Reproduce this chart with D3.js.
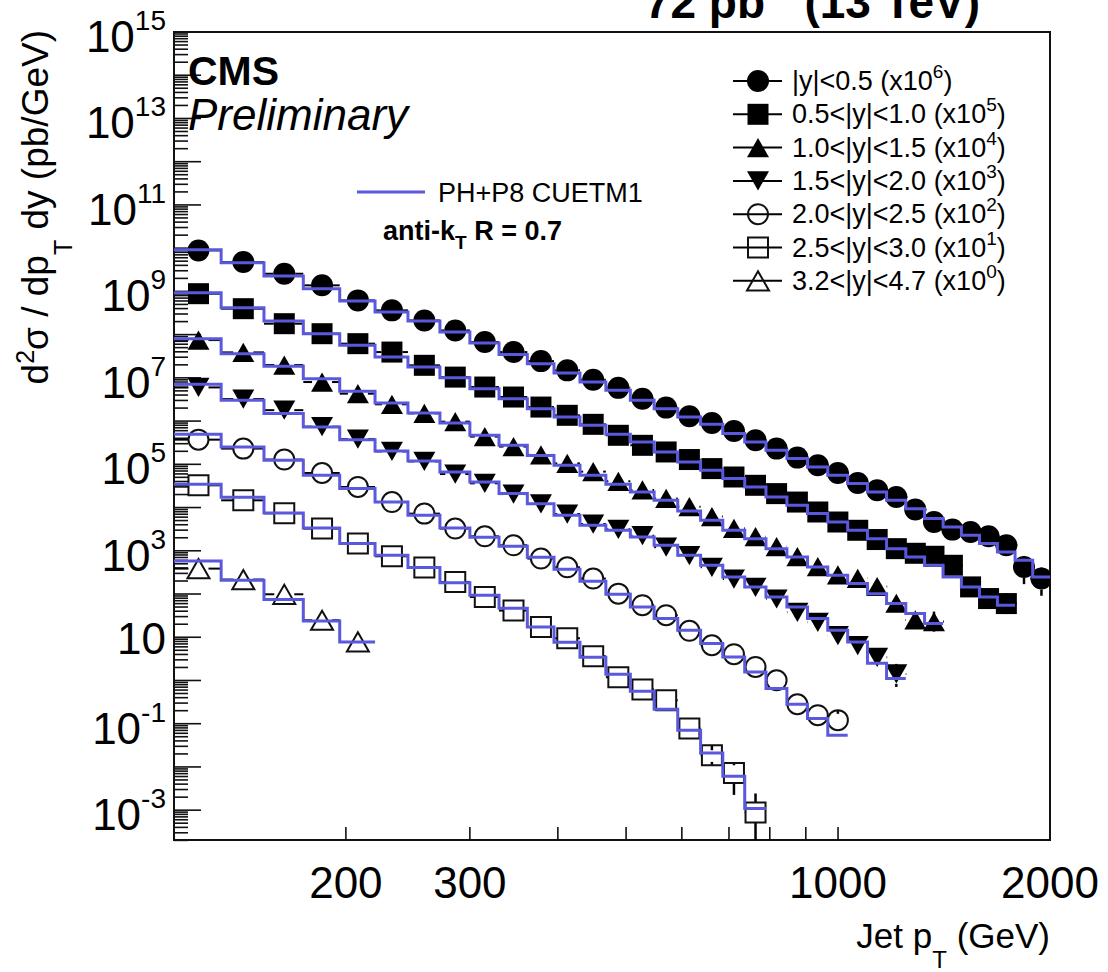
<!DOCTYPE html>
<html><head><meta charset="utf-8">
<script src="https://cdn.jsdelivr.net/npm/d3@7"></script>
<style>
body{margin:0;background:#fff}
text{font-family:"Liberation Sans",Arial,Helvetica,sans-serif;fill:#000}
</style>
</head><body>
<svg id="chart" width="1108" height="972"></svg>
<script>
// ---------------- data ----------------
const binEdges = [114,133,153,174,196,220,245,272,300,330,362,395,430,468,507,548,592,638,686,737,790,846,905,967,1032,1101,1172,1248,1327,1410,1497,1588,1684,1784,1890,2000];
const seriesLabels = ["|y|<0.5","0.5<|y|<1.0","1.0<|y|<1.5","1.5<|y|<2.0","2.0<|y|<2.5","2.5<|y|<3.0","3.2<|y|<4.7"];
const scaleExponents = [6,5,4,3,2,1,0];
const markerTypes = ["circle","square","triangleUp","triangleDown","circleOpen","squareOpen","triangleOpen"];

// measured cross sections d2sigma/dpT dy (pb/GeV), before the legend scale factor
const data0 = [8.87e3,4.76e3,2.56e3,1.38e3,619,364,213,125,67.3,39.5,24.4,14.9,9.08,5.87,3.30,2.05,1.29,0.90,0.589,0.359,0.231,0.143,0.0948,0.0630,0.0370,0.0251,0.0175,0.00897,0.00463,0.00309,0.00272,0.00216,0.00134,0.000423,0.000228];
const data1 = [8.85e3,3.98e3,1.79e3,1.05e3,618,395,195,104,61.3,36.0,21.1,13.6,8.41,4.69,2.75,1.93,1.29,0.796,0.509,0.327,0.210,0.134,0.0789,0.0463,0.0298,0.0182,0.0112,0.00875,0.00746,0.00462,0.00146,0.000785,0.000601];
const data2 = [7.48e3,3.88e3,1.98e3,800,431,244,151,97.1,43.7,25.7,16.5,10.5,6.78,4.05,2.55,1.63,1.05,0.618,0.331,0.212,0.125,0.0735,0.0430,0.0276,0.0231,0.0149,0.00612,0.00251,0.00230];
const data3 = [6.01e3,3.23e3,1.79e3,742,384,199,117,59.6,36.3,20.5,12.1,7.08,4.15,3.14,2.23,1.21,0.773,0.414,0.222,0.143,0.0766,0.0378,0.0221,0.0109,0.00641,0.00344,0.00142];
const data4 = [3.72e3,2.31e3,1.29e3,630,299,134,72.4,32.6,21.6,13.4,6.61,4.15,2.28,1.02,0.550,0.323,0.141,0.0653,0.0405,0.0206,0.0101,0.00282,0.00157,0.00121];
const data5 = [3.27e3,1.47e3,736,326,147,74.6,40.9,19.0,8.55,4.14,1.73,0.948,0.364,0.119,0.0618,0.0349,0.00774,0.00187,0.000728,0.0000885];
const data6 = [387,216,98.6,24.7,7.78];

// PH+P8 CUETM1 prediction (pb/GeV), before the scale factor
const mc0 = [9.21e3,4.61e3,2.26e3,1.15e3,597,332,206,115,63.8,34.9,21.3,12.9,8.00,5.14,3.02,1.94,1.24,0.841,0.513,0.328,0.211,0.136,0.0867,0.0557,0.0358,0.0229,0.0147,0.00944,0.00556,0.00355,0.00228,0.00147,0.000938,0.000603,0.000248];
const mc1 = [9.33e3,4.20e3,2.06e3,1.05e3,564,303,178,101,56.2,33.0,19.4,12.4,7.98,4.94,3.28,1.93,1.13,0.726,0.467,0.299,0.175,0.113,0.0724,0.0463,0.0298,0.0191,0.0112,0.00719,0.00462,0.00248,0.00146,0.000855,0.000550];
const mc2 = [8.05e3,3.62e3,1.85e3,957,488,261,153,90.2,46.9,27.5,16.1,9.48,5.57,3.45,2.29,1.47,0.832,0.507,0.298,0.191,0.112,0.0719,0.0422,0.0272,0.0175,0.0102,0.00601,0.00353,0.00207];
const mc3 = [7.08e3,3.02e3,1.49e3,728,372,203,119,66.4,39.0,21.0,12.3,6.62,3.89,2.98,2.08,1.34,0.787,0.462,0.248,0.146,0.0855,0.0502,0.0270,0.0145,0.00778,0.00251,0.00111];
const mc4 = [4.94e3,2.51e3,1.24e3,557,274,134,66.2,33.7,20.5,12.7,7.08,3.73,1.97,0.986,0.502,0.270,0.145,0.0714,0.0351,0.0158,0.00652,0.00282,0.00132,0.000542];
const mc5 = [3.45e3,1.73e3,748,337,147,78.7,40.9,18.2,9.35,4.69,1.73,0.766,0.345,0.140,0.0564,0.0216,0.00708,0.00211,0.000611,0.000109];
const mc6 = [581,208,74.5,23.8,7.78];

// visible vertical error bars: [series, bin, relative down, relative up]
const errBars = [[0,33,0.6,0.6],[0,34,0.6,0.6],[1,32,0.3,0.3],[2,28,0.3,0.3],[3,26,0.5,0.5],[4,23,0.4,0.4],[5,17,0.3,0.3],[5,18,0.69,0.5],[5,19,0.95,1.75]];

const xTicks = [200,300,400,500,600,700,800,900,1000,2000];
const xTickLabels = [200,300,1000,2000];
const yLabelExponents = [15,13,11,9,7,5,3,1,-1,-3];

const dataSets = [data0,data1,data2,data3,data4,data5,data6];
const mcSets = [mc0,mc1,mc2,mc3,mc4,mc5,mc6];

// ---------------- layout ----------------
const frame = {left:174, right:1050, top:32, bottom:840};
const mcColor = "#5a58dc";
const svg = d3.select("#chart");

const x = d3.scaleLog().domain([114,2000]).range([frame.left, frame.right]);
const y = d3.scaleLog().domain([Math.pow(10,-3.69), 1e15]).range([frame.bottom, frame.top]);

svg.append("defs").append("clipPath").attr("id","clip")
  .append("rect").attr("x",frame.left).attr("y",frame.top)
  .attr("width",frame.right-frame.left).attr("height",frame.bottom-frame.top);

// ---------------- axes ticks ----------------
const tickG = svg.append("g").attr("stroke","#111").attr("stroke-width",1.6);
for (let e=-4; e<=15; e++) {
  for (let m=1; m<=9; m++) {
    const v = m*Math.pow(10,e);
    const py = y(v);
    if (py < frame.top-0.5 || py > frame.bottom+0.5) continue;
    const len = (m===1) ? 27 : 14;
    tickG.append("line").attr("x1",frame.left).attr("x2",frame.left+len)
      .attr("y1",py).attr("y2",py);
  }
}
xTicks.forEach(v=>{
  tickG.append("line").attr("x1",x(v)).attr("x2",x(v))
    .attr("y1",frame.bottom).attr("y2",frame.bottom-13);
});

svg.append("rect").attr("x",frame.left).attr("y",frame.top)
  .attr("width",frame.right-frame.left).attr("height",frame.bottom-frame.top)
  .attr("fill","none").attr("stroke","#111").attr("stroke-width",2);

yLabelExponents.forEach(e=>{
  const py = y(Math.pow(10,e));
  const t = svg.append("text").attr("x",166).attr("text-anchor","end").attr("font-size",44);
  if (e===1) {
    t.attr("y",py+17).text("10");
  } else {
    t.attr("y",py+20);
    t.append("tspan").text("10");
    t.append("tspan").attr("font-size",28).attr("dy",-22).text(String(e));
  }
});
xTickLabels.forEach(v=>{
  svg.append("text").attr("x",x(v)).attr("y",898).attr("text-anchor","middle")
    .attr("font-size",44).text(String(v));
});

const yt = svg.append("text").attr("transform","translate(48,30) rotate(-90)")
  .attr("text-anchor","end").attr("font-size",37);
yt.append("tspan").text("d");
yt.append("tspan").attr("font-size",25).attr("dy",-14).text("2");
yt.append("tspan").attr("dy",14).text("σ / dp");
yt.append("tspan").attr("font-size",25).attr("dy",24).text("T");
yt.append("tspan").attr("dy",-24).text(" dy (pb/GeV)");

const xt = svg.append("text").attr("x",1050).attr("y",948).attr("text-anchor","end").attr("font-size",35);
xt.append("tspan").text("Jet p");
xt.append("tspan").attr("font-size",24).attr("dy",20).text("T");
xt.append("tspan").attr("dy",-20).text(" (GeV)");

// title (cropped at the top edge, as in the original figure)
const tt = svg.append("text").attr("x",980).attr("y",18).attr("text-anchor","end")
  .attr("font-size",46).attr("font-weight","bold");
tt.append("tspan").text("72 pb");
tt.append("tspan").attr("font-size",30).attr("dy",-18).text("-1");
tt.append("tspan").attr("dy",18).text(" (13 TeV)");

svg.append("text").attr("x",188).attr("y",85).attr("font-size",41).attr("font-weight","bold").text("CMS");
svg.append("text").attr("x",188).attr("y",130).attr("font-size",44).attr("font-style","italic").text("Preliminary");

// ---------------- markers ----------------
const triUp = {draw(ctx,size){const w=Math.sqrt(size)*0.55,h=Math.sqrt(size)*0.48;ctx.moveTo(0,-h);ctx.lineTo(w,h);ctx.lineTo(-w,h);ctx.closePath();}};
const triDown = {draw(ctx,size){const w=Math.sqrt(size)*0.55,h=Math.sqrt(size)*0.48;ctx.moveTo(0,h);ctx.lineTo(w,-h);ctx.lineTo(-w,-h);ctx.closePath();}};
const markerDef = {
  circle:      {type:d3.symbolCircle, size:Math.PI*11*11, fill:"#000", half:11},
  square:      {type:d3.symbolSquare, size:21*21, fill:"#000", half:10.5},
  triangleUp:  {type:triUp,   size:400, fill:"#000", half:10},
  triangleDown:{type:triDown, size:400, fill:"#000", half:10},
  circleOpen:  {type:d3.symbolCircle, size:Math.PI*10*10, fill:"none", half:10},
  squareOpen:  {type:d3.symbolSquare, size:20*20, fill:"none", half:10},
  triangleOpen:{type:triUp,   size:400, fill:"none", half:10}
};
function drawMarker(g, type, cx, cy){
  const d = markerDef[type];
  g.append("path").attr("d", d3.symbol().type(d.type).size(d.size)())
    .attr("transform",`translate(${cx},${cy})`)
    .attr("fill", d.fill).attr("stroke", d.fill==="none" ? "#111" : "none")
    .attr("stroke-width", 2);
}

const plotG = svg.append("g").attr("clip-path","url(#clip)");
const dataG = plotG.append("g");

dataSets.forEach((vals, s)=>{
  const f = Math.pow(10, scaleExponents[s]);
  const md = markerDef[markerTypes[s]];
  vals.forEach((v,i)=>{
    const lo = binEdges[i], hi = binEdges[i+1];
    const cx = x((lo+hi)/2), cy = y(v*f);
    dataG.append("line").attr("x1",x(lo)).attr("x2",cx-md.half).attr("y1",cy).attr("y2",cy)
      .attr("stroke","#000").attr("stroke-width",2);
    dataG.append("line").attr("x1",cx+md.half).attr("x2",x(hi)).attr("y1",cy).attr("y2",cy)
      .attr("stroke","#000").attr("stroke-width",2);
  });
});
errBars.forEach(([s,i,dn,up])=>{
  const f = Math.pow(10, scaleExponents[s]);
  const v = dataSets[s][i]*f;
  const cx = x((binEdges[i]+binEdges[i+1])/2);
  const md = markerDef[markerTypes[s]];
  const cy = y(v);
  dataG.append("line").attr("x1",cx).attr("x2",cx).attr("y1",cy+md.half).attr("y2",y(v*(1-dn)))
    .attr("stroke","#000").attr("stroke-width",2.5);
  dataG.append("line").attr("x1",cx).attr("x2",cx).attr("y1",cy-md.half).attr("y2",y(v*(1+up)))
    .attr("stroke","#000").attr("stroke-width",2.5);
});
dataSets.forEach((vals, s)=>{
  const f = Math.pow(10, scaleExponents[s]);
  vals.forEach((v,i)=>{
    drawMarker(dataG, markerTypes[s], x((binEdges[i]+binEdges[i+1])/2), y(v*f));
  });
});

mcSets.forEach((vals, s)=>{
  const f = Math.pow(10, scaleExponents[s]);
  const pts = [];
  vals.forEach((v,i)=>{ pts.push([binEdges[i], v*f]); pts.push([binEdges[i+1], v*f]); });
  const line = d3.line().x(d=>x(d[0])).y(d=>y(d[1]));
  plotG.append("path").attr("d", line(pts)).attr("fill","none")
    .attr("stroke",mcColor).attr("stroke-width",3);
});

// ---------------- legends ----------------
svg.append("line").attr("x1",357).attr("x2",425).attr("y1",192).attr("y2",192)
  .attr("stroke",mcColor).attr("stroke-width",3);
svg.append("text").attr("x",438).attr("y",202).attr("font-size",27).text("PH+P8 CUETM1");
const ak = svg.append("text").attr("x",383).attr("y",240).attr("font-size",27).attr("font-weight","bold");
ak.append("tspan").text("anti-k");
ak.append("tspan").attr("font-size",19).attr("dy",9).text("T");
ak.append("tspan").attr("dy",-9).text(" R = 0.7");

const legG = svg.append("g");
seriesLabels.forEach((lab,s)=>{
  const ry = 81 + s*33.3;
  legG.append("line").attr("x1",733).attr("x2",782).attr("y1",ry).attr("y2",ry)
    .attr("stroke","#000").attr("stroke-width",2);
  drawMarker(legG, markerTypes[s], 758, ry);
  const t = legG.append("text").attr("x",792).attr("y",ry+9).attr("font-size",27);
  t.append("tspan").text(lab + " (x10");
  t.append("tspan").attr("font-size",19).attr("dy",-12).text(String(scaleExponents[s]));
  t.append("tspan").attr("dy",12).text(")");
});
</script>
</body></html>
